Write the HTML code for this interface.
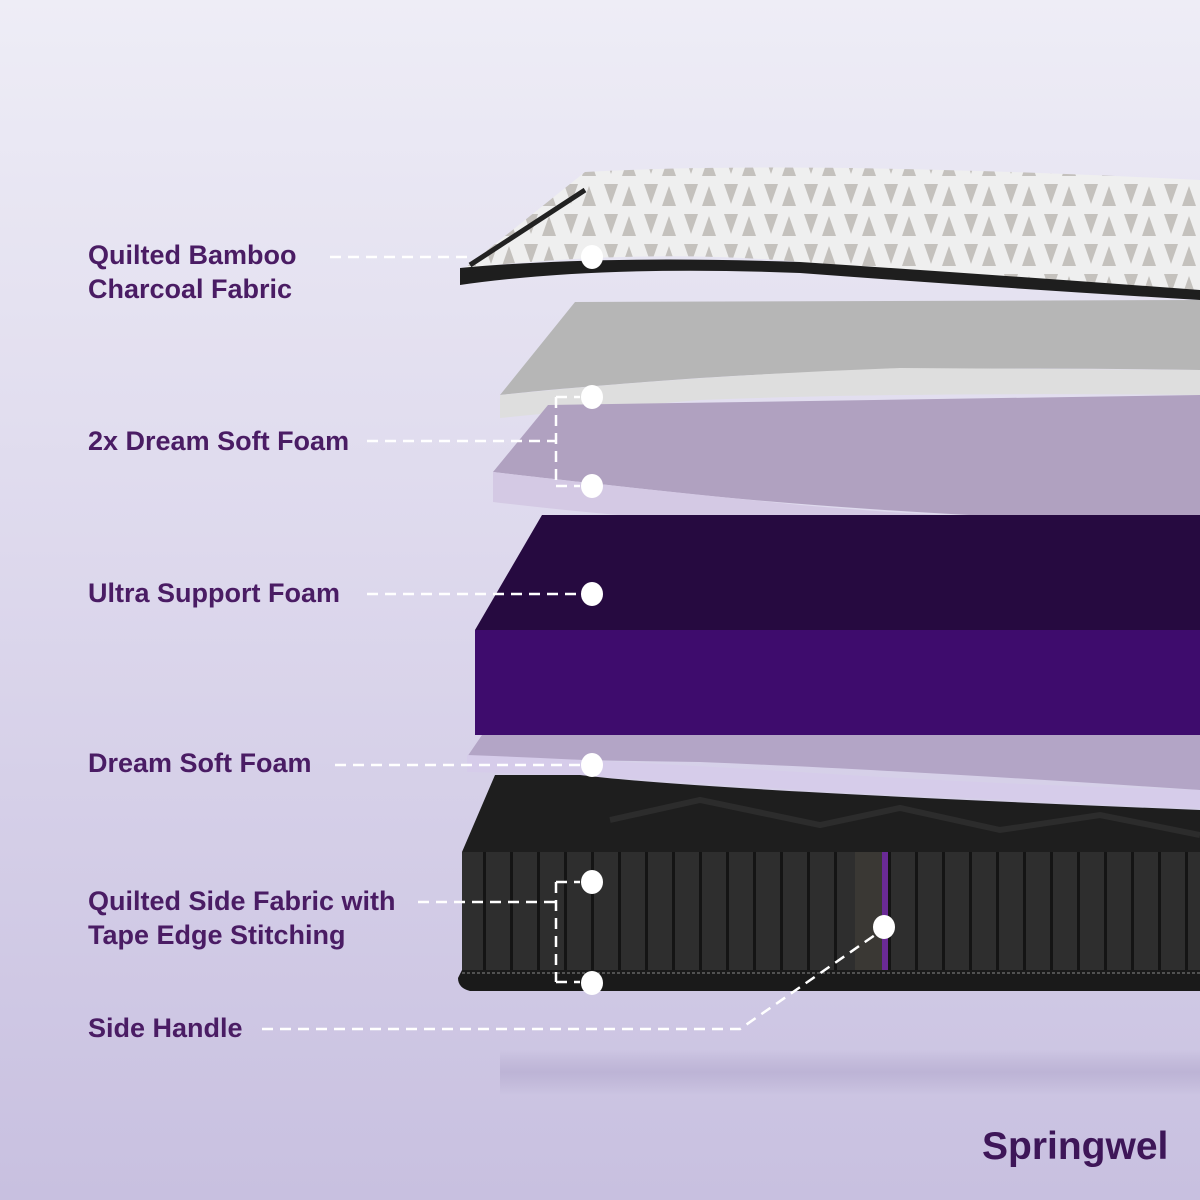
<!DOCTYPE html>
<html><head><meta charset="utf-8"><style>
html,body{margin:0;padding:0}
body{width:1200px;height:1200px;overflow:hidden;background:linear-gradient(180deg,#eeedf6 0%,#dcd7ec 50%,#c8c0e0 100%);position:relative;font-family:"Liberation Sans",sans-serif}
.l{position:absolute;left:88px;color:#4a1c64;font-weight:bold;font-size:27px;line-height:34px;letter-spacing:0}
</style></head><body>
<svg width="1200" height="1200" style="position:absolute;left:0;top:0">
<defs>
<pattern id="tri" width="40" height="30" patternUnits="userSpaceOnUse">
<rect width="40" height="30" fill="#efefef"/>
<path d="M4 4 L18 4 L11 24Z M22 26 L36 26 L29 6Z" fill="#c4c1bd"/>
</pattern>
<linearGradient id="sh" x1="0" y1="0" x2="0" y2="1"><stop offset="0" stop-color="#b9b0d2" stop-opacity="0"/><stop offset=".5" stop-color="#bdb4d6"/><stop offset="1" stop-color="#b9b0d2" stop-opacity="0"/></linearGradient>
<pattern id="str" width="27" height="10" patternUnits="userSpaceOnUse"><rect width="27" height="10" fill="#2e2e2e"/><rect x="24" width="3" height="10" fill="#141414"/></pattern>
</defs>
<rect x="500" y="1050" width="700" height="45" fill="url(#sh)"/>
<path d="M585 172 Q800 160 1200 180 L1200 290 Q900 275 800 262 Q650 248 465 268 Z" fill="url(#tri)"/>
<path d="M585 190 L470 265" stroke="#222" stroke-width="5"/>
<path d="M460 268 Q600 255 800 262 Q1000 275 1200 290 L1200 300 Q1000 288 800 273 Q600 265 460 285 Z" fill="#1e1e1e"/>
<path d="M575 302 L1200 300 L1200 370 Q900 365 700 378 Q560 388 500 395 Z" fill="#b6b6b6"/>
<path d="M500 395 Q700 375 900 368 L1200 370 L1200 395 Q900 392 700 400 Q560 412 500 418 Z" fill="#dedede"/>
<path d="M548 405 L1200 395 L1200 525 Q900 515 700 495 Q560 480 493 472 Z" fill="#b0a1c0"/>
<path d="M493 472 Q600 485 800 505 Q1000 522 1200 525 L1200 543 Q1000 540 800 530 Q600 515 493 502 Z" fill="#d4c9e4"/>
<path d="M542 515 L1200 515 L1200 630 L475 630 Z" fill="#260a40"/>
<path d="M475 630 L1200 630 L1200 735 L475 735 Z" fill="#3e0c6d"/>
<path d="M482 735 L1200 735 L1200 790 Q900 770 700 762 Q560 760 467 757 Z" fill="#b3a5c6"/>
<path d="M467 755 Q600 760 800 772 Q1000 785 1200 790 L1200 808 Q1000 800 800 790 Q600 775 467 772 Z" fill="#d6ccea"/>
<path d="M495 775 L580 775 Q700 790 1200 810 L1200 852 L462 852 Z" fill="#1e1e1e"/>
<path d="M610 820 L700 800 L820 825 L900 808 L1000 830 L1100 815 L1200 835" stroke="#2c2c2c" stroke-width="6" fill="none"/>
<rect x="462" y="852" width="738" height="120" fill="url(#str)"/>
<rect x="855" y="852" width="32" height="120" fill="#3a3834"/>
<rect x="882" y="852" width="6" height="120" fill="#6a2a96"/>
<path d="M462 970 L1200 970 L1200 991 L470 991 Q458 988 458 978 Z" fill="#1a1a1a"/>
<line x1="462" y1="973" x2="1200" y2="973" stroke="#888" stroke-width="1" stroke-dasharray="3 2"/>
<g stroke="#fff" stroke-width="2.5" fill="none" stroke-dasharray="11 7">
<path d="M330 257 H470"/>
<path d="M367 441 H556 M556 397 V486 M556 397 H580 M556 486 H580"/>
<path d="M367 594 H580"/>
<path d="M335 765 H580"/>
<path d="M418 902 H556 M556 882 V982 M556 882 H580 M556 982 H580"/>
<path d="M262 1029 H740 L875 935"/>
</g>
<g fill="#fff">
<ellipse cx="592" cy="257" rx="11" ry="12"/><ellipse cx="592" cy="397" rx="11" ry="12"/><ellipse cx="592" cy="486" rx="11" ry="12"/><ellipse cx="592" cy="594" rx="11" ry="12"/><ellipse cx="592" cy="765" rx="11" ry="12"/><ellipse cx="592" cy="882" rx="11" ry="12"/><ellipse cx="592" cy="983" rx="11" ry="12"/><ellipse cx="884" cy="927" rx="11" ry="12"/>
</g>
</svg>
<div class="l" style="top:238px">Quilted Bamboo<br>Charcoal Fabric</div>
<div class="l" style="top:424px">2x Dream Soft Foam</div>
<div class="l" style="top:576px">Ultra Support Foam</div>
<div class="l" style="top:746px">Dream Soft Foam</div>
<div class="l" style="top:884px">Quilted Side Fabric with<br>Tape Edge Stitching</div>
<div class="l" style="top:1011px">Side Handle</div>
<div style="position:absolute;left:982px;top:1125px;font-weight:bold;font-size:39px;color:#3e1658;letter-spacing:0">Springwel</div>
</body></html>
